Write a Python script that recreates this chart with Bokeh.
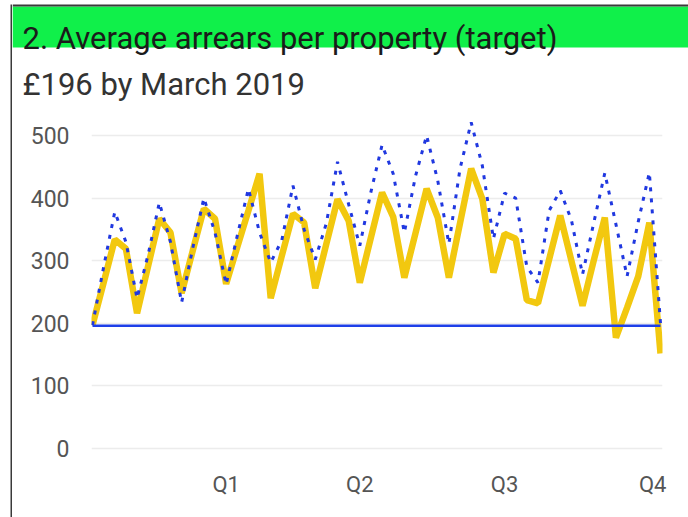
from bokeh.plotting import figure
from bokeh.layouts import row, column
from bokeh.models import Range1d, FixedTicker, ColumnDataSource
from bokeh.core.properties import value
from bokeh.embed import file_html
from bokeh.resources import INLINE

# ---- data ----
title_text = "2. Average arrears per property (target)"
subtitle_text = "£196 by March 2019"
weeks = list(range(52))
actual = [197, 265, 334, 319, 216, 292, 367, 345, 248, 316, 383, 367, 263, 322, 380, 439,
          240, 308, 375, 361, 256, 327, 398, 364, 265, 337, 409, 370, 273, 344, 415, 369,
          273, 360, 447, 399, 281, 343, 335, 237, 232, 302, 372, 300, 228, 300, 369, 177,
          225, 275, 361, 152]
previous = [197, 290, 378, 330, 240, 310, 393, 330, 233, 320, 400, 345, 262, 340, 415, 345,
            297, 333, 420, 350, 302, 360, 458, 390, 324, 410, 485, 439, 345, 435, 500, 428,
            327, 447, 521, 452, 335, 408, 400, 290, 265, 380, 412, 365, 278, 360, 440, 358,
            275, 362, 441, 200]
target = [196] * 52
quarter_ticks = [12, 24, 37, 50.3]
quarter_labels = ["Q1", "Q2", "Q3", "Q4"]
y_ticks = [0, 100, 200, 300, 400, 500]

FONT = "Roboto"
GREEN = "#10F04A"
BORDER = "#3a3a3a"
HEAD_H = 106

# ---- left border strip ----
strip = figure(width=12, height=517, x_range=Range1d(0, 12), y_range=Range1d(517, 0),
               toolbar_location=None, output_backend="svg", min_border=0,
               x_axis_location=None, y_axis_location=None, outline_line_color=None)
strip.grid.visible = False
strip.quad(left=[10], right=[12], top=[4], bottom=[517], color=BORDER, line_width=0)

# ---- header (title + subtitle) ----
head = figure(width=676, height=HEAD_H, x_range=Range1d(0, 676), y_range=Range1d(HEAD_H, 0),
              toolbar_location=None, output_backend="svg", min_border=0,
              x_axis_location=None, y_axis_location=None, outline_line_color=None)
head.grid.visible = False
head.quad(left=[0], right=[676], top=[6], bottom=[47], color=GREEN, line_width=0)
head.quad(left=[0], right=[676], top=[4], bottom=[6], color=BORDER, line_width=0)
head.text(x=[10], y=[38], text=[title_text], text_font=value(FONT), text_font_size="31px",
          text_color="#1b1b1b", text_baseline="alphabetic", text_align="left")
head.text(x=[10], y=[84], text=[subtitle_text], text_font=value(FONT), text_font_size="31px",
          text_color="#333333", text_baseline="alphabetic", text_align="left")

# ---- main chart ----
src = ColumnDataSource(dict(week=weeks, actual=actual, previous=previous, target=target))
p = figure(width=676, height=517 - HEAD_H, x_range=Range1d(-0.09, 51.18), y_range=Range1d(-3.2, 540),
           toolbar_location=None, output_backend="svg",
           min_border_left=79, min_border_right=26, min_border_top=110 - HEAD_H,
           min_border_bottom=67, outline_line_color=None)
p.xgrid.visible = False
p.ygrid.grid_line_color = "#ececec"
p.ygrid.grid_line_width = 1.5

p.line("week", "actual", source=src, line_color="#F2C80F", line_width=6.5)
p.line("week", "previous", source=src, line_color="#2038E0", line_width=3, line_dash="4 7")
p.line("week", "target", source=src, line_color="#1E3FE8", line_width=2.5)

p.yaxis.ticker = FixedTicker(ticks=y_ticks)
p.xaxis.ticker = FixedTicker(ticks=quarter_ticks)
p.xaxis.major_label_overrides = {t: l for t, l in zip(quarter_ticks, quarter_labels)}
for ax in (p.xaxis, p.yaxis):
    ax.axis_line_color = None
    ax.major_tick_line_color = None
    ax.minor_tick_line_color = None
    ax.major_tick_out = 0
    ax.major_tick_in = 0
    ax.major_label_text_font = FONT
    ax.major_label_text_color = "#555555"
p.yaxis.major_label_text_font_size = "23px"
p.xaxis.major_label_text_font_size = "22px"
p.yaxis.major_label_standoff = 22
p.xaxis.major_label_standoff = 21

for f in (strip, head, p):
    f.frame_align = False

layout = row(strip, column(head, p, spacing=0), spacing=0)
open("out.html", "w").write(file_html(layout, INLINE))
